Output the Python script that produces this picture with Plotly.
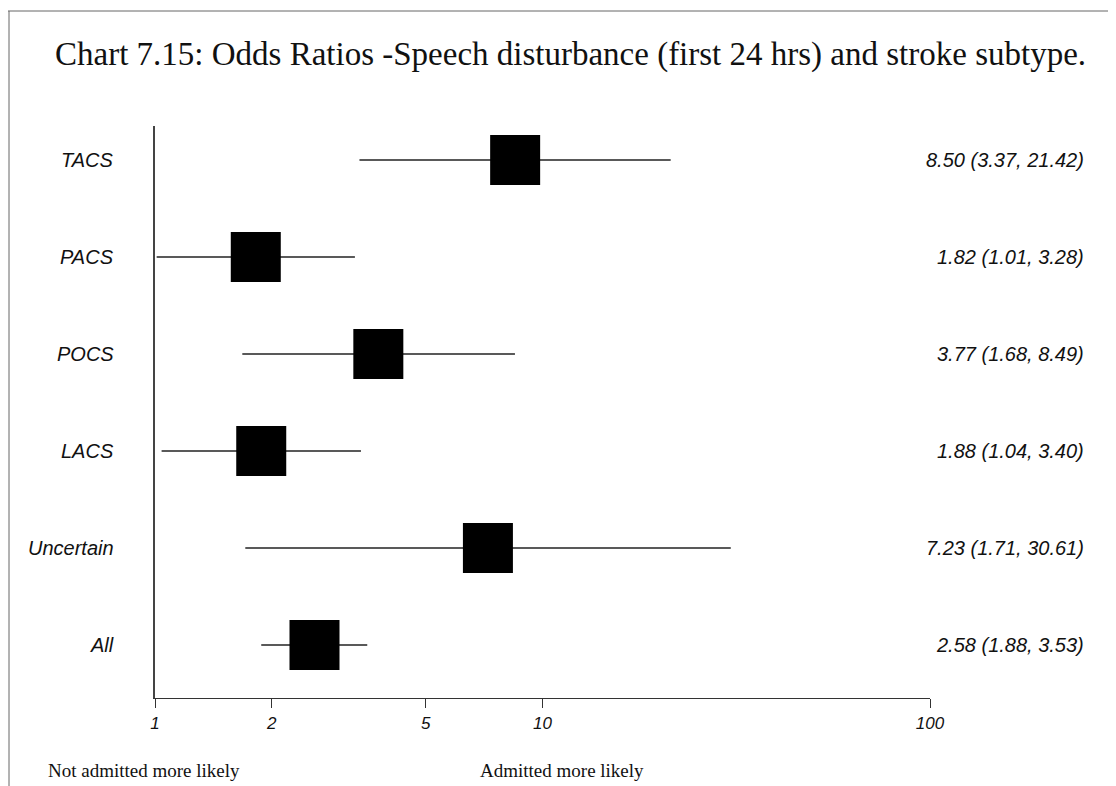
import plotly.graph_objects as go

categories = ["TACS", "PACS", "POCS", "LACS", "Uncertain", "All"]
odds = [8.50, 1.82, 3.77, 1.88, 7.23, 2.58]
lower = [3.37, 1.01, 1.68, 1.04, 1.71, 1.88]
upper = [21.42, 3.28, 8.49, 3.40, 30.61, 3.53]
tick_vals = [1, 2, 5, 10, 100]
tick_text = ["1", "2", "5", "10", "100"]
title_text = "Chart 7.15: Odds Ratios -Speech disturbance (first 24 hrs) and stroke subtype."
left_note = "Not admitted more likely"
right_note = "Admitted more likely"

OFF = 8  # browser body margin
W, H = 1116 - OFF, 786 - OFF
# plot area in page pixels
L, R, T, B = 155, 930, 126, 698


def px_x(p):
    return (p - L) / (R - L)


def px_y(p):
    return (B - p) / (B - T)


ypos = list(range(len(categories)))

fig = go.Figure()

# CI lines
xs, ys = [], []
for i, (lo, hi) in enumerate(zip(lower, upper)):
    xs += [lo, hi, None]
    ys += [i, i, None]
fig.add_trace(go.Scatter(x=xs, y=ys, mode="lines",
                         line=dict(color="#222222", width=1.3),
                         hoverinfo="skip", showlegend=False))

# squares
fig.add_trace(go.Scatter(x=odds, y=ypos, mode="markers",
                         marker=dict(symbol="square", size=50, color="black",
                                     line=dict(width=0)),
                         showlegend=False))

annotations = []
sans_it = dict(family="Liberation Sans, Arial, sans-serif", size=20, color="#111111", style="italic")
for i, (c, o, lo, hi) in enumerate(zip(categories, odds, lower, upper)):
    annotations.append(dict(x=px_x(116), y=i, xref="paper", yref="y", text=c,
                            showarrow=False, xanchor="right", yanchor="middle", font=sans_it))
    annotations.append(dict(x=px_x(1086), y=i, xref="paper", yref="y",
                            text=f"{o:.2f} ({lo:.2f}, {hi:.2f})",
                            showarrow=False, xanchor="right", yanchor="middle", font=sans_it))

serif = dict(family="Liberation Serif, Times New Roman, serif", color="#111111")
annotations.append(dict(x=px_x(53), y=px_y(55), xref="paper", yref="paper", text=title_text,
                        showarrow=False, xanchor="left", yanchor="middle",
                        font=dict(size=33, **serif)))
annotations.append(dict(x=px_x(46), y=px_y(770), xref="paper", yref="paper", text=left_note,
                        showarrow=False, xanchor="left", yanchor="middle",
                        font=dict(size=19, **serif)))
annotations.append(dict(x=px_x(478), y=px_y(770), xref="paper", yref="paper", text=right_note,
                        showarrow=False, xanchor="left", yanchor="middle",
                        font=dict(size=19, **serif)))

shapes = [
    dict(type="line", xref="paper", yref="paper", x0=px_x(OFF), x1=px_x(1116), y0=px_y(11), y1=px_y(11),
         line=dict(color="#666666", width=1)),
    dict(type="line", xref="paper", yref="paper", x0=px_x(9), x1=px_x(9), y0=px_y(11), y1=px_y(786),
         line=dict(color="#666666", width=1)),
]

fig.update_layout(
    width=W, height=H,
    margin=dict(l=L - OFF, r=W - (R - OFF), t=T - OFF, b=H - (B - OFF), pad=0),
    paper_bgcolor="white", plot_bgcolor="white",
    annotations=annotations, shapes=shapes,
    xaxis=dict(type="log", range=[0, 2], tickvals=tick_vals, ticktext=tick_text,
               ticks="outside", ticklen=9, tickcolor="#333333", tickwidth=1.2,
               showline=True, linecolor="#333333", linewidth=1.3,
               showgrid=False, zeroline=False,
               tickfont=dict(family="Liberation Sans, Arial, sans-serif", size=17,
                             color="#111111", style="italic")),
    yaxis=dict(range=[5 + (B - 645) / 97, -(160 - T) / 97], showticklabels=False, ticks="",
               showline=True, linecolor="#444444", linewidth=1.5,
               showgrid=False, zeroline=False),
)

fig.write_html("out.html")
